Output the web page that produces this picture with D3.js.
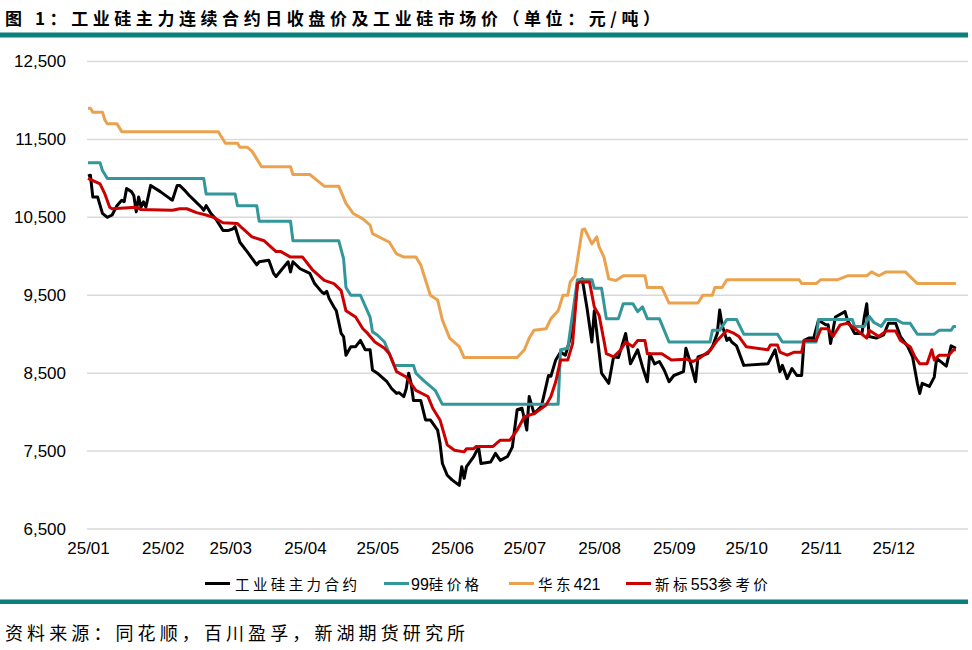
<!DOCTYPE html>
<html>
<head>
<meta charset="utf-8">
<script src="https://cdn.jsdelivr.net/npm/d3@7"></script>
<style>
  html, body { margin: 0; padding: 0; background: #fff; }
  svg { display: block; }
</style>
</head>
<body>
<svg id="chart" width="972" height="650"></svg>
<script>
// ---------------- DATA ----------------
const titleText = "图 1：工业硅主力连续合约日收盘价及工业硅市场价（单位：元/吨）";
const sourceText = "资料来源：同花顺，百川盈孚，新湖期货研究所";
const seriesNames = ["工业硅主力合约", "99硅价格", "华东421", "新标553参考价"];
const yTickValues = [6500, 7500, 8500, 9500, 10500, 11500, 12500];
const xTickMonths = ["2025-01","2025-02","2025-03","2025-04","2025-05","2025-06","2025-07","2025-08","2025-09","2025-10","2025-11","2025-12"];

// 工业硅主力合约 (date MM-DD, value)
const futuresMain = [
["01-01",11030],["01-02",11040],["01-03",10760],["01-05",10760],["01-07",10550],["01-09",10500],["01-11",10530],["01-13",10650],
["01-15",10720],["01-16",10700],["01-17",10870],["01-19",10830],["01-20",10780],["01-21",10570],["01-22",10760],["01-23",10630],
["01-24",10700],["01-25",10630],["01-27",10910],["01-31",10830],["02-04",10740],["02-05",10720],["02-07",10910],["02-08",10910],
["02-10",10850],["02-12",10780],["02-14",10720],["02-17",10630],["02-18",10590],["02-19",10650],["02-21",10550],["02-23",10480],
["02-26",10330],["02-28",10330],["03-02",10350],["03-03",10380],["03-05",10180],["03-08",10060],["03-12",9890],["03-13",9930],
["03-17",9950],["03-19",9780],["03-20",9740],["03-25",9930],["03-26",9800],["03-27",9930],["03-30",9840],["04-03",9780],
["04-05",9650],["04-08",9540],["04-09",9520],["04-10",9550],["04-11",9460],["04-13",9350],["04-14",9300],["04-16",9010],
["04-17",8970],["04-18",8730],["04-20",8840],["04-22",8840],["04-24",8920],["04-26",8800],["04-28",8800],["04-29",8540],
["05-01",8500],["05-05",8390],["05-07",8300],["05-09",8240],["05-10",8250],["05-12",8200],["05-13",8300],["05-14",8500],
["05-15",8370],["05-16",8150],["05-19",8150],["05-21",7900],["05-23",7900],["05-26",7770],["05-27",7600],["05-28",7340],
["05-30",7190],["06-01",7130],["06-04",7060],["06-05",7300],["06-06",7150],["06-07",7300],["06-10",7430],["06-12",7550],
["06-13",7340],["06-17",7360],["06-19",7470],["06-21",7380],["06-24",7430],["06-26",7550],["06-28",8030],["06-30",8050],
["07-02",7770],["07-03",8200],["07-05",7980],["07-08",8070],["07-09",8200],["07-11",8470],["07-12",8460],["07-14",8670],
["07-16",8770],["07-18",8730],["07-21",9050],["07-23",9650],["07-25",9710],["07-27",9330],["07-29",8900],["07-30",9300],
["08-02",8500],["08-05",8370],["08-07",8710],["08-09",8700],["08-12",9010],["08-14",8620],["08-17",8800],["08-19",8580],
["08-21",8390],["08-22",8750],["08-24",8620],["08-26",8650],["08-28",8540],["08-30",8390],["09-01",8470],["09-05",8520],
["09-06",8820],["09-08",8620],["09-10",8390],["09-11",8710],["09-15",8750],["09-17",8840],["09-19",9010],["09-20",9310],
["09-21",9120],["09-23",8920],["09-24",8950],["09-25",8900],["09-27",8850],["09-30",8600],["10-10",8620],["10-13",8800],
["10-15",8520],["10-16",8600],["10-18",8430],["10-20",8560],["10-22",8470],["10-24",8470],["10-25",8920],["10-27",8950],
["10-29",8950],["10-31",9180],["11-03",9120],["11-04",9120],["11-05",8880],["11-07",9220],["11-11",9290],["11-12",9180],
["11-15",9010],["11-18",9010],["11-19",9220],["11-20",9390],["11-21",8970],["11-24",8950],["11-27",8990],["11-29",9140],
["12-02",9140],["12-04",8970],["12-07",8840],["12-09",8710],["12-11",8370],["12-12",8240],["12-13",8370],["12-16",8330],
["12-18",8450],["12-19",8690],["12-23",8590],["12-25",8850],["12-27",8820]
];

// 99硅价格
const si99 = [
["01-01",11200],["01-06",11200],["01-07",11100],["01-09",11000],["02-18",11000],["02-19",10800],["03-03",10800],["03-04",10650],
["03-12",10650],["03-13",10450],["03-26",10450],["03-27",10200],["04-15",10200],["04-17",9970],["04-18",9600],["04-20",9500],
["04-24",9500],["04-28",9220],["04-29",9030],["05-01",8990],["05-04",8900],["05-08",8600],["05-16",8600],["05-17",8500],
["05-20",8410],["05-25",8280],["05-28",8100],["07-15",8100],["07-16",8800],["07-19",8820],["07-23",9700],["07-29",9700],
["07-30",9590],["08-02",9590],["08-04",9200],["08-09",9200],["08-11",9390],["08-15",9390],["08-17",9290],["08-19",9350],
["08-21",9200],["08-26",9200],["08-30",8900],["09-16",8900],["09-17",9050],["09-20",9050],["09-23",9190],["09-27",9190],
["09-30",9000],["10-14",9000],["10-16",8900],["10-30",8900],["10-31",9190],["11-14",9190],["11-15",9100],["11-19",9100],
["11-21",9230],["11-23",9150],["11-26",9100],["11-28",9190],["12-02",9190],["12-05",9140],["12-08",9140],["12-11",9000],
["12-18",9000],["12-20",9050],["12-25",9050],["12-26",9100],["12-27",9100]
];

// 华东421
const eastChina421 = [
["01-01",11900],["01-02",11900],["01-03",11850],["01-07",11850],["01-08",11750],["01-09",11700],["01-13",11700],["01-15",11600],
["02-24",11600],["02-25",11550],["02-27",11450],["03-04",11450],["03-05",11400],["03-08",11400],["03-10",11350],["03-12",11250],
["03-14",11150],["03-26",11150],["03-27",11050],["04-03",11050],["04-05",11000],["04-09",10900],["04-15",10900],["04-18",10680],
["04-21",10550],["04-25",10480],["04-28",10400],["04-29",10290],["05-06",10180],["05-09",10030],["05-12",9990],["05-17",9990],
["05-19",9890],["05-23",9500],["05-26",9440],["05-28",9180],["05-31",8950],["06-04",8840],["06-06",8700],["06-28",8700],
["07-01",8800],["07-03",8950],["07-05",9050],["07-10",9070],["07-12",9200],["07-15",9300],["07-17",9500],["07-19",9500],
["07-20",9670],["07-22",9750],["07-25",10340],["07-26",10350],["07-29",10160],["07-31",10250],["08-01",10120],["08-03",9990],
["08-05",9710],["08-08",9690],["08-11",9750],["08-20",9750],["08-21",9600],["08-27",9600],["08-30",9400],["09-11",9400],
["09-13",9500],["09-17",9500],["09-18",9600],["09-21",9600],["09-23",9700],["10-23",9700],["10-24",9650],["10-30",9650],
["11-01",9700],["11-08",9700],["11-12",9750],["11-20",9750],["11-22",9800],["11-25",9750],["11-28",9800],["12-06",9800],
["12-11",9650],["12-27",9650]
];

// 新标553参考价
const new553 = [
["01-01",11000],["01-06",10930],["01-08",10800],["01-10",10630],["01-11",10610],["01-16",10620],["01-21",10630],["01-23",10600],
["02-05",10590],["02-08",10610],["02-11",10610],["02-15",10560],["02-19",10530],["02-22",10500],["02-26",10430],["03-04",10420],
["03-06",10360],["03-10",10250],["03-15",10200],["03-20",10060],["03-22",10060],["03-26",9990],["03-31",9990],["04-04",9830],
["04-09",9690],["04-13",9650],["04-16",9560],["04-18",9300],["04-22",9220],["04-25",9070],["04-27",9010],["04-30",8900],
["05-04",8820],["05-06",8750],["05-09",8520],["05-13",8450],["05-17",8280],["05-22",8200],["05-24",8050],["05-27",7900],
["05-30",7580],["06-02",7510],["06-06",7490],["06-07",7530],["06-10",7530],["06-11",7560],["06-18",7560],["06-21",7640],
["06-25",7640],["06-28",7770],["07-01",7940],["07-05",7980],["07-10",8090],["07-12",8200],["07-14",8390],["07-16",8670],
["07-19",8670],["07-21",8880],["07-23",9650],["07-24",9670],["07-28",9670],["07-30",9350],["08-01",9240],["08-03",8920],
["08-04",8750],["08-07",8710],["08-10",8800],["08-12",8900],["08-15",8840],["08-17",8920],["08-20",8920],["08-21",8750],
["08-27",8750],["08-31",8670],["09-06",8680],["09-09",8650],["09-12",8700],["09-16",8790],["09-19",8920],["09-23",9050],
["09-26",9010],["09-28",8970],["10-01",8840],["10-10",8800],["10-11",8860],["10-14",8860],["10-15",8770],["10-18",8730],
["10-21",8770],["10-24",8770],["10-25",8920],["10-30",8920],["11-01",9070],["11-04",9070],["11-06",8970],["11-09",9120],
["11-12",9140],["11-16",9050],["11-20",8950],["11-21",9050],["11-25",8970],["11-28",9040],["12-02",9040],["12-04",8920],
["12-08",8840],["12-10",8710],["12-12",8620],["12-15",8620],["12-17",8800],["12-18",8670],["12-20",8730],["12-24",8730],
["12-26",8800],["12-27",8800]
];

// ---------------- DRAW ----------------
(function () {
const svg = d3.select("#chart");
const colors = ["#000000", "#33969a", "#eba24e", "#cc0000"];
const parse = d3.timeParse("%Y-%m-%d");
const toDate = s => parse("2025-" + s);

const pL = 88, pR = 968, pT = 61.5, pB = 529;
const x = d3.scaleTime().domain([new Date(2025,0,1), new Date(2026,0,1)]).range([pL, pR]);
const y = d3.scaleLinear().domain([6500, 12500]).range([pB, pT]);

// title
svg.append("text")
  .attr("x", 5).attr("y", 25)
  .attr("font-family", "'Noto Sans CJK SC', sans-serif")
  .attr("font-weight", "bold")
  .attr("font-size", 17)
  .attr("textLength", 655)
  .attr("lengthAdjust", "spacing")
  .attr("fill", "#000")
  .text(titleText);

// teal rules
svg.append("rect").attr("x", 0).attr("y", 32.5).attr("width", 968).attr("height", 5).attr("fill", "#0b7f7b");
svg.append("rect").attr("x", 0).attr("y", 599.5).attr("width", 968).attr("height", 4.5).attr("fill", "#0b7f7b");

// gridlines
svg.append("g").selectAll("line").data(yTickValues).join("line")
  .attr("x1", pL - 1).attr("x2", pR)
  .attr("y1", d => y(d)).attr("y2", d => y(d))
  .attr("stroke", "#d9d9d9").attr("stroke-width", 1.5);

// y axis labels
const yAxis = d3.axisLeft(y).tickValues(yTickValues).tickFormat(d3.format(",")).tickSize(0).tickPadding(0);
const gy = svg.append("g").attr("transform", "translate(66,0)").call(yAxis);
gy.select(".domain").remove();
gy.selectAll("text").attr("font-family", "'Liberation Sans', Arial, sans-serif").attr("font-size", 17).attr("fill", "#000");

// x axis labels
const xAxis = d3.axisBottom(x).tickValues(xTickMonths.map(m => parse(m + "-01"))).tickFormat(d3.timeFormat("%y/%m")).tickSize(0).tickPadding(0);
const gx = svg.append("g").attr("transform", `translate(0,${pB + 13})`).call(xAxis);
gx.select(".domain").remove();
gx.selectAll("text").attr("font-family", "'Liberation Sans', Arial, sans-serif").attr("font-size", 17).attr("fill", "#000");

// lines
const allSeries = [futuresMain, si99, eastChina421, new553];
const line = d3.line().x(d => x(toDate(d[0]))).y(d => y(d[1])).curve(d3.curveLinear);
allSeries.forEach((s, i) => {
  svg.append("path").datum(s)
    .attr("d", line)
    .attr("fill", "none")
    .attr("stroke", colors[i])
    .attr("stroke-width", 3)
    .attr("stroke-linejoin", "round");
});

// legend
const legendY = 583.5;
const legendItems = [
  {x0: 205, tx: 235},
  {x0: 384, tx: 411},
  {x0: 509, tx: 538},
  {x0: 626, tx: 655}
];
const lg = svg.append("g");
seriesNames.forEach((name, i) => {
  const it = legendItems[i];
  lg.append("line").attr("x1", it.x0).attr("x2", it.x0 + 25)
    .attr("y1", legendY).attr("y2", legendY)
    .attr("stroke", colors[i]).attr("stroke-width", 3);
  const t = lg.append("text").attr("x", it.tx).attr("y", legendY + 6)
    .attr("fill", "#000");
  name.split(/([0-9]+)/).filter(p => p.length).forEach(part => {
    const isNum = /^[0-9]+$/.test(part);
    t.append("tspan")
      .attr("font-family", isNum ? "'Liberation Sans', Arial, sans-serif" : "'Noto Sans CJK SC', sans-serif")
      .attr("font-size", isNum ? 16 : 14.5)
      .attr("letter-spacing", isNum ? 0 : 3.4)
      .text(part);
  });
});

// source
svg.append("text")
  .attr("x", 5).attr("y", 640)
  .attr("font-family", "'Noto Sans CJK SC', sans-serif")
  .attr("font-size", 18)
  .attr("textLength", 460)
  .attr("lengthAdjust", "spacing")
  .attr("fill", "#000")
  .text(sourceText);
})();
</script>
</body>
</html>
